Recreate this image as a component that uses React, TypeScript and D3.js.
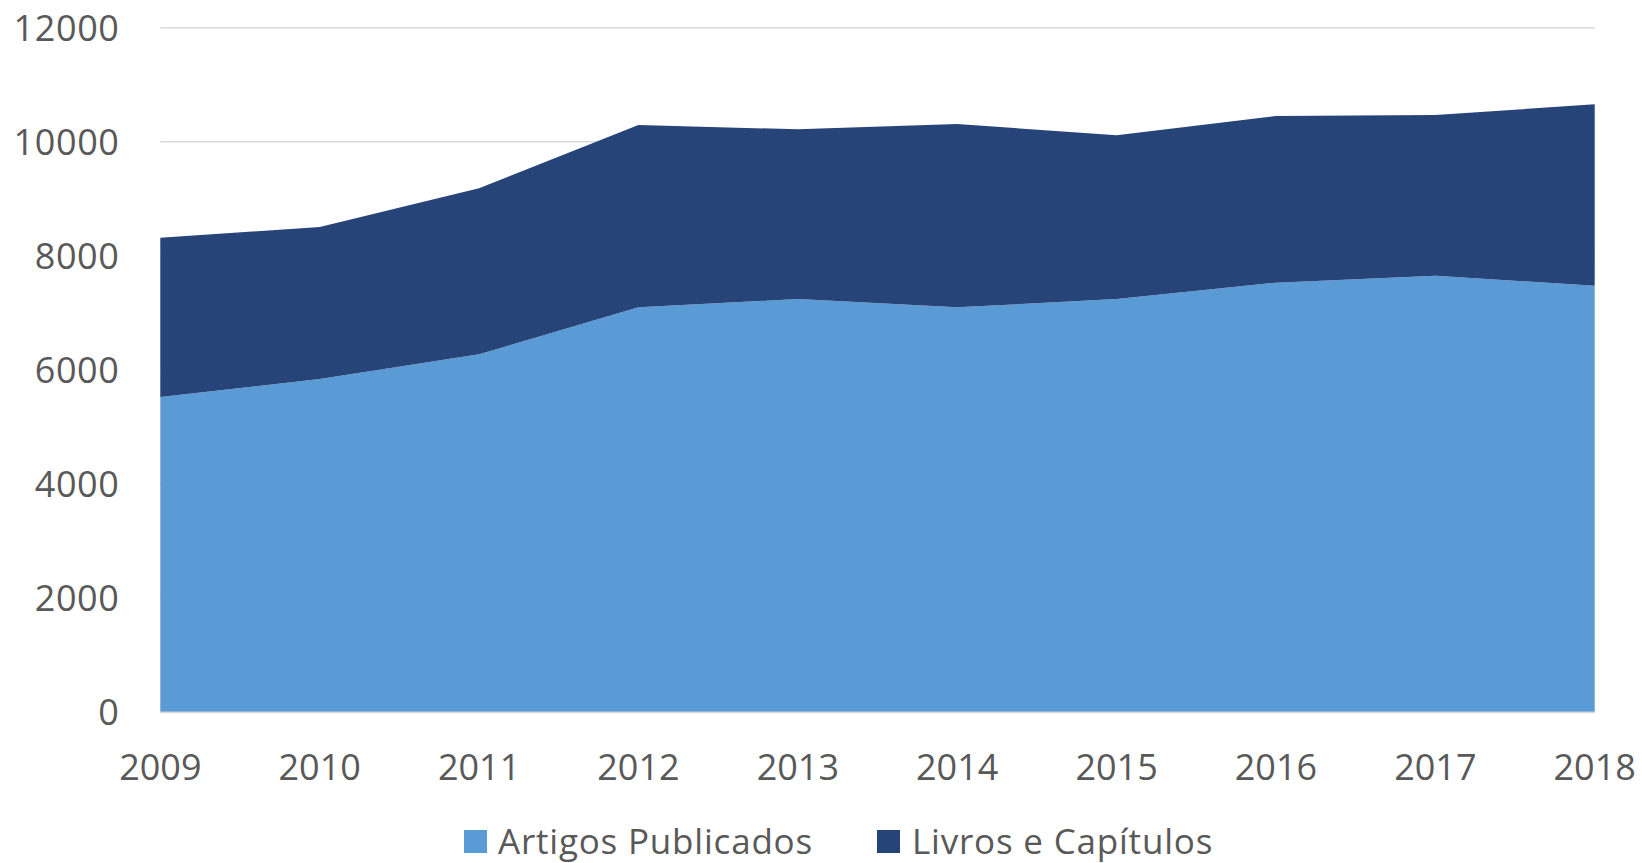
import React from "react";
import * as d3 from "d3";

const years = [2009, 2010, 2011, 2012, 2013, 2014, 2015, 2016, 2017, 2018];
const artigos = [5520, 5835, 6270, 7095, 7240, 7095, 7240, 7526, 7649, 7474];
const livros = [2796, 2668, 2912, 3198, 2977, 3215, 2872, 2925, 2819, 3182];
const yTicks = [0, 2000, 4000, 6000, 8000, 10000, 12000];
const seriesNames = ["Artigos Publicados", "Livros e Capítulos"];
const colors = ["#5B9BD5", "#264478"];

const W = 1642;
const H = 863;
const FONT = "'Open Sans', 'Liberation Sans', sans-serif";

export default function App() {
  const x = d3.scaleLinear().domain([2009, 2018]).range([160.3, 1594.7]);
  const y = d3.scaleLinear().domain([0, 12000]).range([711.7, 27.7]);

  const rows = years.map((yr, i) => ({ year: yr, a: artigos[i], l: livros[i] }));
  const stack = d3.stack<any>().keys(["a", "l"])(rows);
  const area = d3
    .area<any>()
    .x((d) => x(d.data.year))
    .y0((d) => y(d[0]))
    .y1((d) => y(d[1]));

  const legendItems = [
    { sx: 464, tx: 498 },
    { sx: 877, tx: 912 },
  ];

  return (
    <svg
      width={W}
      height={H}
      style={{ position: "absolute", left: 0, top: 0, background: "#fff" }}
      fontFamily={FONT}
    >
      {yTicks.map((t) => (
        <line
          key={"g" + t}
          x1={160.3}
          x2={1594.7}
          y1={y(t)}
          y2={y(t)}
          stroke="#D9D9D9"
          strokeWidth={1.5}
        />
      ))}
      {stack.map((s, i) => (
        <path key={i} d={area(s as any) || ""} fill={colors[i]} />
      ))}
      <line x1={160.3} x2={1594.7} y1={712.5} y2={712.5} stroke="#D9D9D9" strokeWidth={1.5} />
      {yTicks.map((t) => (
        <text
          key={"t" + t}
          x={119.5}
          y={y(t)}
          textAnchor="end"
          dominantBaseline="central"
          fontSize={36}
          letterSpacing={0.6}
          fill="#595959"
        >
          {t}
        </text>
      ))}
      {years.map((yr) => (
        <text
          key={"x" + yr}
          x={x(yr)}
          y={780}
          textAnchor="middle"
          fontSize={36}
          fill="#595959"
        >
          {yr}
        </text>
      ))}
      {seriesNames.map((n, i) => (
        <g key={n}>
          <rect x={legendItems[i].sx} y={830} width={23} height={23} fill={colors[i]} />
          <text
            x={legendItems[i].tx}
            y={854}
            fontSize={35}
            letterSpacing={0.8}
            fill="#595959"
          >
            {n}
          </text>
        </g>
      ))}
    </svg>
  );
}
